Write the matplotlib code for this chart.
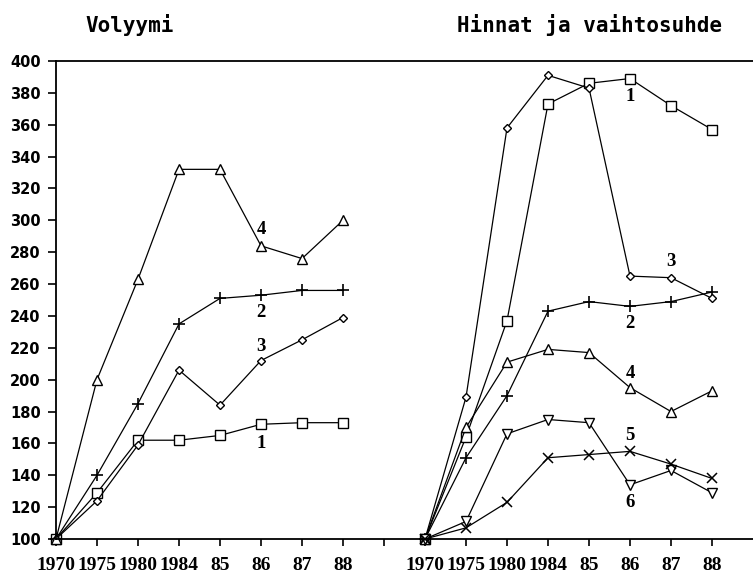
import matplotlib
matplotlib.use("Agg")
import matplotlib.pyplot as plt

# years on the category axis (same for both panels)
years = ["1970", "1975", "1980", "1984", "85", "86", "87", "88"]

# Volyymi (left panel)
vol_1 = [100, 129, 162, 162, 165, 172, 173, 173]
vol_2 = [100, 140, 185, 235, 251, 253, 256, 256]
vol_3 = [100, 124, 159, 206, 184, 212, 225, 239]
vol_4 = [100, 200, 263, 332, 332, 284, 276, 300]

# Hinnat ja vaihtosuhde (right panel)
hin_1 = [100, 164, 237, 373, 386, 389, 372, 357]
hin_2 = [100, 151, 190, 243, 249, 246, 249, 255]
hin_3 = [100, 189, 358, 391, 383, 265, 264, 251]
hin_4 = [100, 170, 211, 219, 217, 195, 180, 193]
hin_5 = [100, 111, 166, 175, 173, 134, 143, 129]
hin_6 = [100, 107, 123, 151, 153, 155, 147, 138]

# series label: (text, year index, y)
vol_labels = [("1", 5, 160), ("2", 5, 242), ("3", 5, 221), ("4", 5, 294)]
hin_labels = [("1", 5, 378), ("2", 5, 235), ("3", 6, 274),
              ("4", 5, 204), ("5", 5, 165), ("6", 5, 123)]

markers = {"1": dict(marker="s", ms=6.5),
           "2": dict(marker="+", ms=9, mew=1.2),
           "3": dict(marker="D", ms=4.5),
           "4": dict(marker="^", ms=7),
           "5": dict(marker="v", ms=7),
           "6": dict(marker="x", ms=7, mew=1.1)}

fig = plt.figure(figsize=(7.53, 5.74), dpi=100)
ax = fig.add_axes([56 / 753, 35 / 574, 1 - 56 / 753, 478 / 574])

left_x = list(range(len(years)))
right_x = [i + len(years) + 1 for i in range(len(years))]

def draw(xs, series, labels):
    for key, ys in series:
        ax.plot(xs, ys, color="black", lw=0.9, mfc="white", mec="black",
                clip_on=False, **markers[key])
    for txt, i, y in labels:
        ax.text(xs[i], y, txt, ha="center", va="center", fontsize=13.5,
                fontweight="bold", family="Liberation Serif")

draw(left_x, [("1", vol_1), ("2", vol_2), ("3", vol_3), ("4", vol_4)], vol_labels)
draw(right_x, [("1", hin_1), ("2", hin_2), ("3", hin_3), ("4", hin_4),
               ("5", hin_5), ("6", hin_6)], hin_labels)

ax.set_xlim(0, 17)
ax.set_ylim(100, 400)
ax.set_yticks(range(100, 401, 20))
ax.set_xticks(left_x + [len(years)] + right_x)
ax.set_xticklabels(years + [""] + years)
ax.spines["right"].set_visible(False)
for s in ["left", "top", "bottom"]:
    ax.spines[s].set_linewidth(1.3)
ax.tick_params(axis="y", length=6, width=1.2, pad=5)
ax.tick_params(axis="x", length=5, width=1.2, pad=8)
for lab in ax.get_yticklabels():
    lab.set_fontweight("bold")
    lab.set_fontsize(10.5)
for lab in ax.get_xticklabels():
    lab.set_fontweight("bold")
    lab.set_fontsize(14)
    lab.set_family("Liberation Serif")

fig.text(85 / 753, 1 - 25 / 574, "Volyymi", ha="left", va="center",
         fontsize=15, fontweight="bold", family="DejaVu Sans Mono")
fig.text(457 / 753, 1 - 25 / 574, "Hinnat ja vaihtosuhde", ha="left",
         va="center", fontsize=15, fontweight="bold", family="DejaVu Sans Mono")

fig.savefig("out.png", dpi=100)
